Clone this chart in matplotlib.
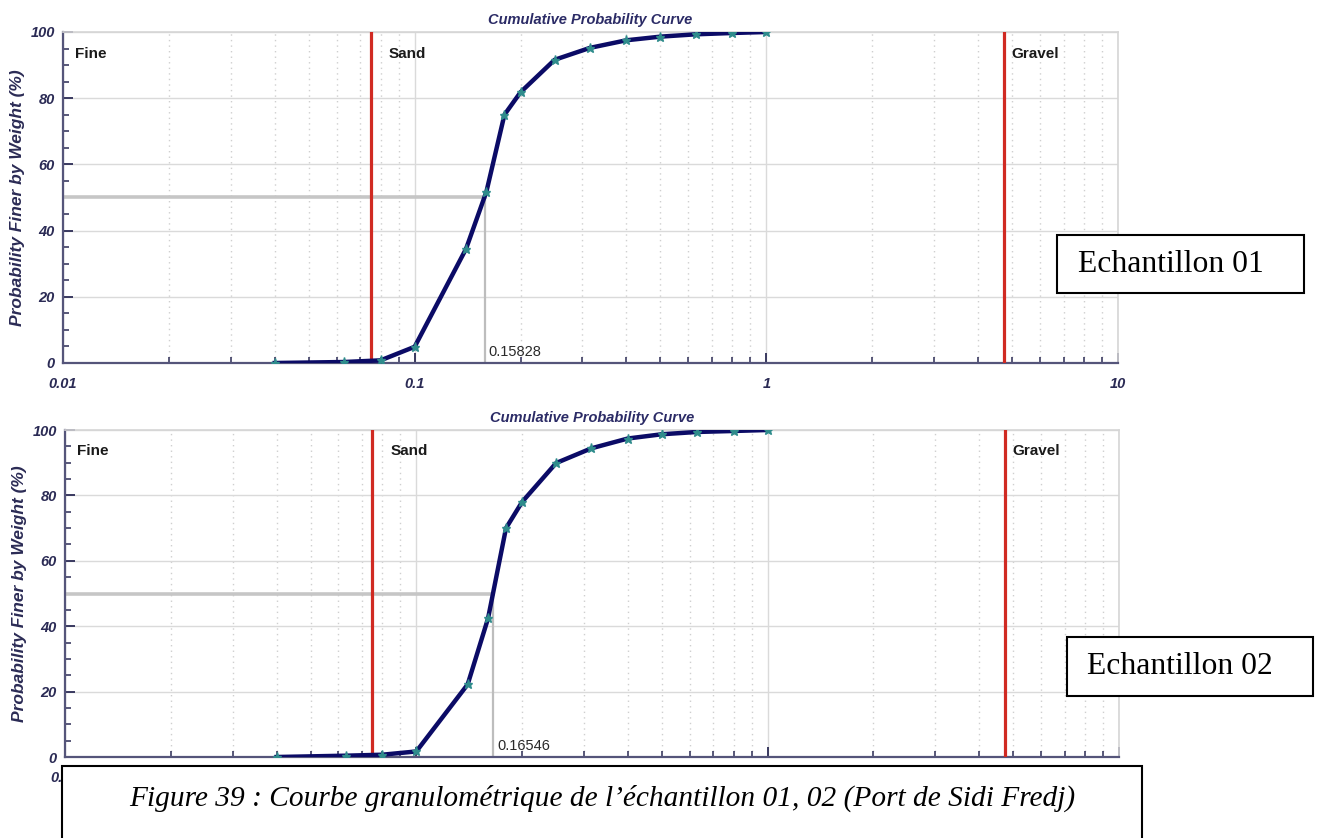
import matplotlib
matplotlib.use("Agg")

import matplotlib.pyplot as plt
from matplotlib.patches import Rectangle
from matplotlib.ticker import FixedLocator, MultipleLocator, NullFormatter

# sieve openings (mm) and cumulative % passing
SIEVE_MM = [0.04, 0.063, 0.08, 0.1, 0.14, 0.16, 0.18, 0.2, 0.25, 0.315,
            0.4, 0.5, 0.63, 0.8, 1.0]
PASSING_01 = [0.0, 0.3, 0.8, 4.9, 34.5, 51.8, 75.0, 81.8, 91.6, 95.2,
              97.5, 98.6, 99.3, 99.7, 100.0]
PASSING_02 = [0.0, 0.4, 0.7, 1.7, 22.2, 42.4, 70.0, 78.0, 89.9, 94.4,
              97.4, 98.7, 99.4, 99.7, 100.0]
D50 = [0.15828, 0.16546]
SAMPLES = ["Echantillon 01", "Echantillon 02"]

FINE_SAND = 0.075
SAND_GRAVEL = 4.75
ZONES = ["Fine", "Sand", "Gravel"]
ZONE_X = [0.0108, 0.0845, 4.97]

X_TICKS = [0.01, 0.1, 1, 10]
X_LABELS = ["0.01", "0.1", "1", "10"]
Y_TICKS = [0, 20, 40, 60, 80, 100]
TITLE = "Cumulative Probability Curve"
YLABEL = "Probability Finer by Weight (%)"
CAPTION = ("Figure 39 : Courbe granulom\u00e9trique de l\u2019\u00e9chantillon "
           "01, 02 (Port de Sidi Fredj)")

NARROW = ["Liberation Sans Narrow", "Liberation Sans", "DejaVu Sans"]
SANS = ["Liberation Sans", "DejaVu Sans"]
SERIF = ["Liberation Serif", "DejaVu Serif"]
NAVY = "#0b0b66"
AXIS = "#2b2b55"
W, H = 1318, 838


def fig_box(x0, y0, x1, y1):
    """pixel box (top-left origin) -> figure fraction rect"""
    return x0 / W, 1 - y1 / H, (x1 - x0) / W, (y1 - y0) / H


def draw_panel(ax, passing, d50):
    ax.set_xscale("log")
    ax.set_xlim(0.01, 10)
    ax.set_ylim(0, 100)

    ax.grid(which="major", color="#dadada", lw=1, ls="-")
    ax.grid(which="minor", axis="x", color="#cfcfcf", lw=1, ls=(0, (1, 3)))
    ax.set_axisbelow(True)

    # d50 guides
    ax.plot([0.01, d50], [50, 50], color="#c6c6c6", lw=2.6, zorder=2)
    ax.plot([d50, d50], [0, 50], color="#bdbdbd", lw=1.6, zorder=2)
    ax.text(d50 * 1.025, 1.2, f"{d50:.5f}", fontsize=10.5, family=NARROW,
            color="#2a2a2a", va="bottom", ha="left")

    # class boundaries
    for b in (FINE_SAND, SAND_GRAVEL):
        ax.axvline(b, color="#d02a22", lw=2.3, zorder=3)

    ax.plot(SIEVE_MM, passing, color=NAVY, lw=3.2, zorder=4,
            marker="*", ms=6.5, mfc="#2f8c8c", mec="#2f8c8c")

    for name, x in zip(ZONES, ZONE_X):
        ax.text(x, 93.5, name, fontsize=11, fontweight="bold", family=NARROW,
                color="#1a1a1a", va="center", ha="left")

    ax.set_title(TITLE, fontsize=10.5, fontweight="bold", fontstyle="italic",
                 family=NARROW, color="#2b2b66", pad=6)

    ax.set_xticks(X_TICKS, labels=X_LABELS, fontsize=10.5, fontweight="bold",
                  fontstyle="italic", family=NARROW, color=AXIS)
    ax.xaxis.set_minor_locator(FixedLocator(
        [m * d for d in (0.01, 0.1, 1) for m in range(2, 10)]))
    ax.xaxis.set_minor_formatter(NullFormatter())
    ax.set_yticks(Y_TICKS, labels=[str(v) for v in Y_TICKS], fontsize=10.5,
                  fontweight="bold", fontstyle="italic", family=NARROW,
                  color=AXIS)
    ax.yaxis.set_minor_locator(MultipleLocator(5))
    ax.tick_params(which="major", direction="in", length=7, width=1.3,
                   color=AXIS, pad=6)
    ax.tick_params(axis="x", which="major", pad=10)
    ax.tick_params(which="minor", direction="in", length=4, width=1.1,
                   color=AXIS)

    ax.set_ylabel(YLABEL, fontsize=12.5, fontweight="bold", fontstyle="italic",
                  family=SANS, color=AXIS)
    ax.yaxis.set_label_coords(-0.036, 0.5)

    for side in ("left", "bottom"):
        ax.spines[side].set_color("#55557a")
        ax.spines[side].set_linewidth(1.6)
    for side in ("top", "right"):
        ax.spines[side].set_color("#d6d6d6")
        ax.spines[side].set_linewidth(1.2)


fig = plt.figure(figsize=(W / 100, H / 100), dpi=100)
ax_top = fig.add_axes(fig_box(63, 32, 1118, 363))
ax_bot = fig.add_axes(fig_box(65, 430, 1119, 757))
draw_panel(ax_top, PASSING_01, D50[0])
draw_panel(ax_bot, PASSING_02, D50[1])

# sample tags
for name, (x0, y0, x1, y1), tx in zip(SAMPLES,
                                      [(1057, 235, 1304, 293),
                                       (1067, 637, 1313, 696)],
                                      [1078, 1087]):
    fig.add_artist(Rectangle(fig_box(x0, y0, x1, y1)[:2],
                             (x1 - x0) / W, (y1 - y0) / H,
                             transform=fig.transFigure, facecolor="white",
                             edgecolor="black", lw=1.5, zorder=10))
    fig.text(tx / W, 1 - (y0 + y1) / 2 / H, name, fontsize=22.8, family=SERIF,
             color="black", ha="left", va="center", zorder=11)

# caption box, covering the lower x tick labels
x0, y0, x1, y1 = 62, 766, 1142, 850
fig.add_artist(Rectangle(fig_box(x0, y0, x1, y1)[:2],
                         (x1 - x0) / W, (y1 - y0) / H,
                         transform=fig.transFigure, facecolor="white",
                         edgecolor="black", lw=1.5, zorder=10))
fig.text((x0 + x1) / 2 / W, 1 - 798 / H, CAPTION, fontsize=21.2,
         fontstyle="italic", family=SERIF, color="black",
         ha="center", va="center", zorder=11)

fig.savefig("out.png", dpi=100)
